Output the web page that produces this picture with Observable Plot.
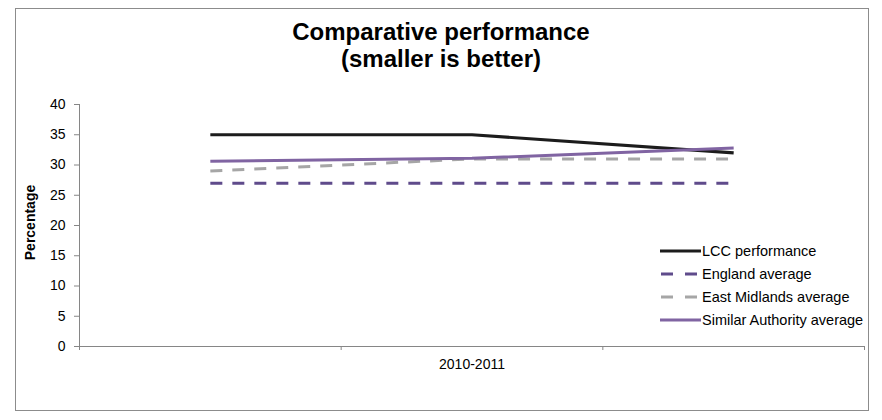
<!DOCTYPE html>
<html>
<head>
<meta charset="utf-8">
<script src="https://cdn.jsdelivr.net/npm/d3@7"></script>
<script src="https://cdn.jsdelivr.net/npm/@observablehq/plot@0.6"></script>
<style>
  html, body { margin: 0; padding: 0; background: #fff; }
  #wrap { position: relative; width: 882px; height: 420px; font-family: "Liberation Sans", Arial, sans-serif; }
  #frame { position: absolute; left: 15px; top: 8px; width: 854px; height: 403px; border: 1px solid #8c8c8c; box-sizing: border-box; }
  #title { position: absolute; left: 0; top: 18px; width: 882px; text-align: center; font-weight: bold; font-size: 24px; line-height: 27px; color: #000; }
  #legend { position: absolute; left: 660px; top: 239px; font-size: 14.5px; color: #000; }
  #legend .row { display: flex; align-items: center; height: 23px; }
  #legend svg { display: block; margin-right: 1px; }
  #chart { position: absolute; left: 0; top: 0; }
</style>
</head>
<body>
<div id="wrap">
  <div id="frame"></div>
  <div id="chart"></div>
  <div id="title">Comparative performance<br>(smaller is better)</div>
  <div id="legend"></div>
</div>
<script>
const categories = ["", "2010-2011", ""];
const lccPerformance = [35, 35, 32];
const englandAverage = [27, 27, 27];
const eastMidlandsAverage = [29, 31, 31];
const similarAuthorityAverage = [30.6, 31.1, 32.8];
const yTicks = [0, 5, 10, 15, 20, 25, 30, 35, 40];
const seriesNames = ["LCC performance", "England average", "East Midlands average", "Similar Authority average"];

const styles = [
  {stroke: "#1c1c1c", strokeWidth: 3.2, dash: null},
  {stroke: "#5f4b8b", strokeWidth: 3, dash: "12,10"},
  {stroke: "#a6a6a6", strokeWidth: 3, dash: "12,10"},
  {stroke: "#8064a2", strokeWidth: 3, dash: null}
];
const seriesValues = [lccPerformance, englandAverage, eastMidlandsAverage, similarAuthorityAverage];

const lineMarks = seriesValues.map((vals, s) => {
  const data = vals.map((v, i) => ({x: i + 0.5, y: v}));
  return Plot.line(data, {
    x: "x", y: "y",
    stroke: styles[s].stroke,
    strokeWidth: styles[s].strokeWidth,
    strokeDasharray: styles[s].dash || undefined,
    strokeLinecap: "butt"
  });
});

const chart = Plot.plot({
  width: 882,
  height: 420,
  marginLeft: 79,
  marginRight: 18,
  marginTop: 104,
  marginBottom: 74,
  style: {fontFamily: "'Liberation Sans', Arial, sans-serif", fontSize: "14px", background: "transparent", color: "#000"},
  x: {domain: [0, categories.length], axis: null},
  y: {domain: [0, 40], axis: null},
  marks: [
    Plot.axisY({ticks: yTicks, tickSize: 5, tickPadding: 9, stroke: "#868686", fill: "#000", label: null, fontSize: 14}),
    Plot.axisX({ticks: d3.range(categories.length + 1), tickFormat: () => "", tickSize: 4, stroke: "#868686", label: null}),
    Plot.ruleX([0], {stroke: "#868686"}),
    Plot.ruleY([0], {stroke: "#868686"}),
    Plot.text(categories, {x: (d, i) => i + 0.5, y: 0, text: d => d, dy: 18, fontSize: 14, fill: "#000"}),
    Plot.text(["Percentage"], {frameAnchor: "left", textAnchor: "middle", text: d => d, rotate: -90, dx: -49, dy: -3, fontWeight: "bold", fontSize: 14, fill: "#000"}),
    ...lineMarks
  ]
});
document.getElementById("chart").appendChild(chart);

const legend = document.getElementById("legend");
seriesNames.forEach((name, s) => {
  const st = styles[s];
  const row = document.createElement("div");
  row.className = "row";
  const dash = st.dash ? ` stroke-dasharray="12,12"` : "";
  row.innerHTML = `<svg width="41" height="10"><line x1="${st.dash ? 1 : 0}" y1="5" x2="41" y2="5" stroke="${st.stroke}" stroke-width="${st.strokeWidth}"${dash}/></svg><span>${name}</span>`;
  legend.appendChild(row);
});
</script>
</body>
</html>
